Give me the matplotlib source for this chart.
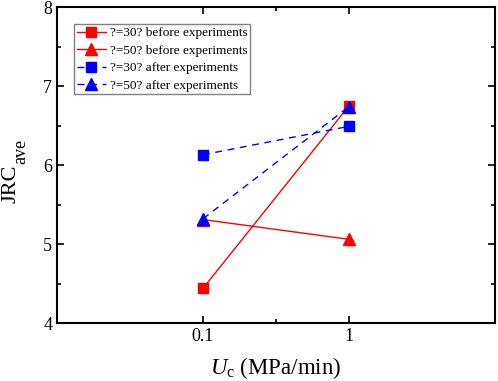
import numpy as np
import matplotlib as mpl
mpl.use('Agg')
import matplotlib.pyplot as plt
from matplotlib.ticker import FixedLocator, NullFormatter, MultipleLocator

plt.rcParams['font.family'] = ['Liberation Serif', 'DejaVu Serif']
plt.rcParams['mathtext.fontset'] = 'custom'
plt.rcParams['mathtext.rm'] = 'Liberation Serif'
plt.rcParams['mathtext.it'] = 'Liberation Serif:italic'

# loading rate (MPa/min)
rate = [0.1, 1]

jrc_30_before = [4.44, 6.75]
jrc_50_before = [5.31, 5.06]
jrc_30_after = [6.13, 6.49]
jrc_50_after = [5.32, 6.74]

labels = ["?=30? before experiments", "?=50? before experiments",
          "?=30? after experiments", "?=50? after experiments"]

fig = plt.figure(figsize=(4.98, 3.81), dpi=100)
ax = fig.add_axes([0.1145, 0.152, 0.8795, 0.8296])

ax.plot(rate, jrc_30_before, color='red', linestyle='-', linewidth=1.0,
        marker='s', markersize=7, label=labels[0])
ax.plot(rate, jrc_50_before, color='red', linestyle='-', linewidth=1.0,
        marker='^', markersize=8, label=labels[1])
ax.plot(rate, jrc_30_after, color='blue', linestyle=(0, (5, 4)), linewidth=1.0,
        marker='s', markersize=7, label=labels[2])
ax.plot(rate, jrc_50_after, color='blue', linestyle=(0, (5, 4)), linewidth=1.0,
        marker='^', markersize=8, label=labels[3])

ax.set_xscale('log')
ax.set_xlim(0.01, 10)
ax.set_ylim(4, 8)
ax.xaxis.set_major_locator(FixedLocator([0.01, 0.1, 1, 10]))
ax.xaxis.set_minor_locator(FixedLocator([10 ** -0.5]))
ax.set_xticklabels(['', '0.1', '1', ''])
ax.xaxis.set_minor_formatter(NullFormatter())
ax.yaxis.set_major_locator(MultipleLocator(1))
ax.yaxis.set_minor_locator(MultipleLocator(0.5))

ax.tick_params(which='both', direction='in', top=True, right=True, width=1.2, labelsize=13)
ax.tick_params(which='major', length=5)
ax.tick_params(which='minor', length=3)
for sp in ax.spines.values():
    sp.set_linewidth(1.5)

ax.set_xlabel(r'$U_{\mathrm{c}}$ (MPa/min)', fontsize=16.5, labelpad=7)

# y label: JRC with a large subscript, built from two texts
t1 = fig.text(15 / 498, 1 - 203 / 381, 'JRC', fontsize=16, rotation=90,
              rotation_mode='anchor', ha='left', va='baseline')
fig.canvas.draw()
bb = t1.get_window_extent()
fig.text(25 / 498, (bb.y1 + 1) / fig.bbox.height, 'ave', fontsize=13, rotation=90,
         rotation_mode='anchor', ha='left', va='baseline')

leg = ax.legend(loc='upper left', bbox_to_anchor=(0.039, 0.945), fontsize=9.5,
                fancybox=False, framealpha=1, edgecolor='gray',
                borderpad=0.2, labelspacing=0.4, handlelength=2.2,
                handletextpad=0.3, borderaxespad=0)
leg.get_frame().set_linewidth(1.0)

plt.savefig('out.png', dpi=100)
